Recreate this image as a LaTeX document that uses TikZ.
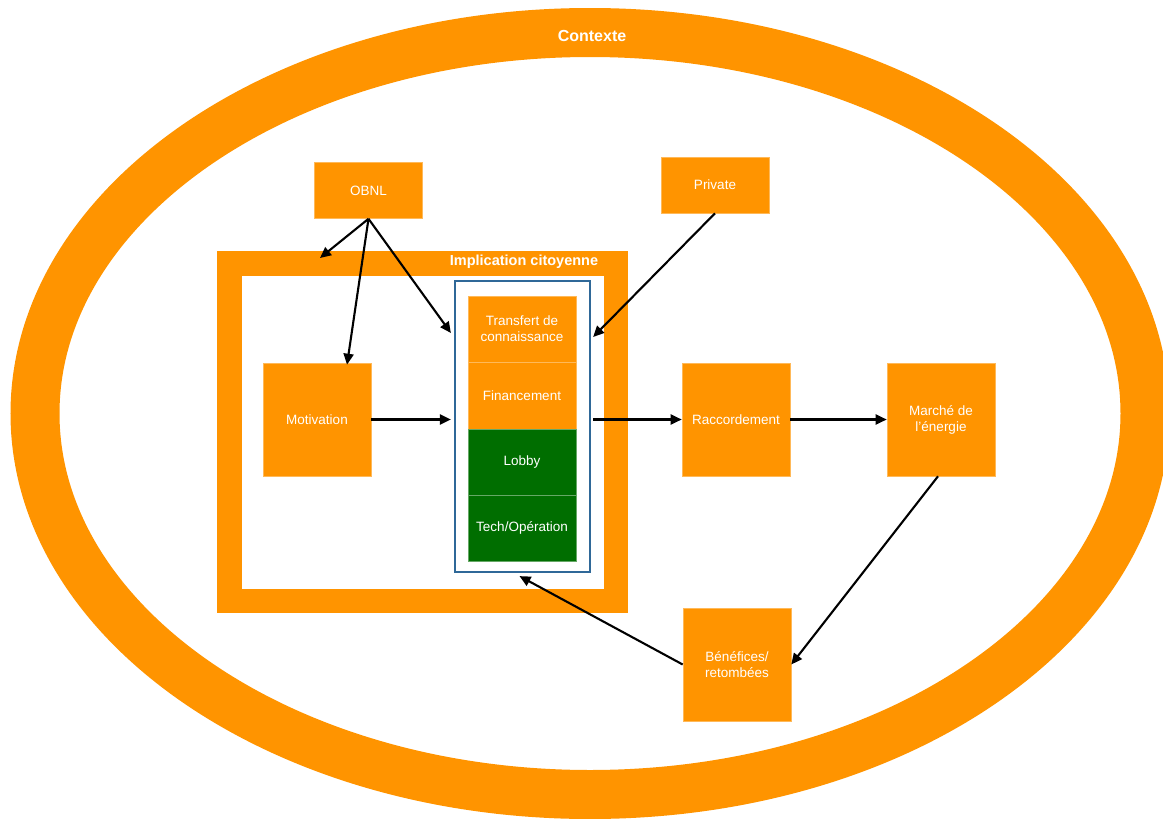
\documentclass[tikz,border=0pt]{standalone}
\usepackage{fontspec}
\setmainfont{Liberation Sans}
\usetikzlibrary{arrows.meta}
\definecolor{boxorange}{RGB}{255,148,0}
\definecolor{boxgreen}{RGB}{0,110,0}
\definecolor{frameblue}{RGB}{47,104,152}

\begin{document}
\begin{tikzpicture}[x=1pt,y=-1pt,
  box/.style={fill=boxorange, draw=boxorange!65!white, line width=0.6pt,
    text=white, font=\fontsize{13.5}{16}\selectfont, align=center,
    inner sep=0pt, minimum width=108pt, minimum height=113pt},
  smallbox/.style={box, minimum height=56pt},
  stackcell/.style={box, minimum height=66pt},
  greencell/.style={stackcell, fill=boxgreen, draw=boxgreen!60!white},
  title/.style={text=white, font=\bfseries\fontsize{14.5}{17}\selectfont, inner sep=0pt},
  link/.style={line width=2.1pt, draw=black, -{Triangle[length=11pt,width=10pt]}}
]
\useasboundingbox (0,0) rectangle (1163,819);

% outer context ring
\draw[boxorange, line width=49pt] (590,413.5) ellipse [x radius=555, y radius=381];
\node[title, font=\bfseries\fontsize{16}{19}\selectfont] (ctx) at (592,36) {Contexte};

% citizen involvement frame
\node[draw=boxorange, line width=24.5pt, fill=white, minimum width=386.5pt,
  minimum height=337.5pt, inner sep=0pt] (impl) at (422.75,432.25) {};
\node[title] (impltitle) at (524,262) {Implication citoyenne};
\coordinate (implIn) at (320,258);

% activity stack
\node[draw=frameblue, line width=2.2pt, fill=white, minimum width=135pt,
  minimum height=291pt, inner sep=0pt] (blue) at (522.5,426.5) {};
\node[stackcell] (transfert) at (522,329) {Transfert de\\connaissance};
\node[stackcell, minimum height=67pt] (finance) at (522,395.5) {Financement};
\node[greencell] (lobby) at (522,462) {Lobby};
\node[greencell] (tech) at (522,528) {Tech/Opération};

% actors and flows
\node[smallbox] (obnl) at (368.5,190.5) {OBNL};
\node[smallbox] (private) at (715,185) {Private};
\node[box] (motiv) at (317,419.5) {Motivation};
\node[box] (racc) at (736,419.5) {Raccordement};
\node[box] (marche) at (941,419.5) {Marché de\\l’énergie};
\node[box] (benef) at (737,664.5) {Bénéfices/\\retombées};

% connectors
\draw[link] (obnl.south) -- (implIn);
\draw[link] (obnl.south) -- ([xshift=30pt,yshift=-2pt]motiv.north);
\draw[link] (obnl.south) -- ([xshift=-3pt,yshift=-4pt]blue.west |- transfert);
\draw[link] (private.south) -- ([xshift=2pt,yshift=-8pt]blue.east |- transfert);
\draw[link] (motiv.east) -- ([xshift=-3pt]motiv.east -| blue.west);
\draw[link] ([xshift=2pt]blue.east |- racc) -- (racc.west);
\draw[link] (racc.east) -- (marche.west);
\draw[link] ([xshift=-3pt]marche.south) -- (benef.east);
\draw[link] (benef.west) -- ([xshift=-3pt,yshift=-3pt]blue.south);
\end{tikzpicture}
\end{document}
